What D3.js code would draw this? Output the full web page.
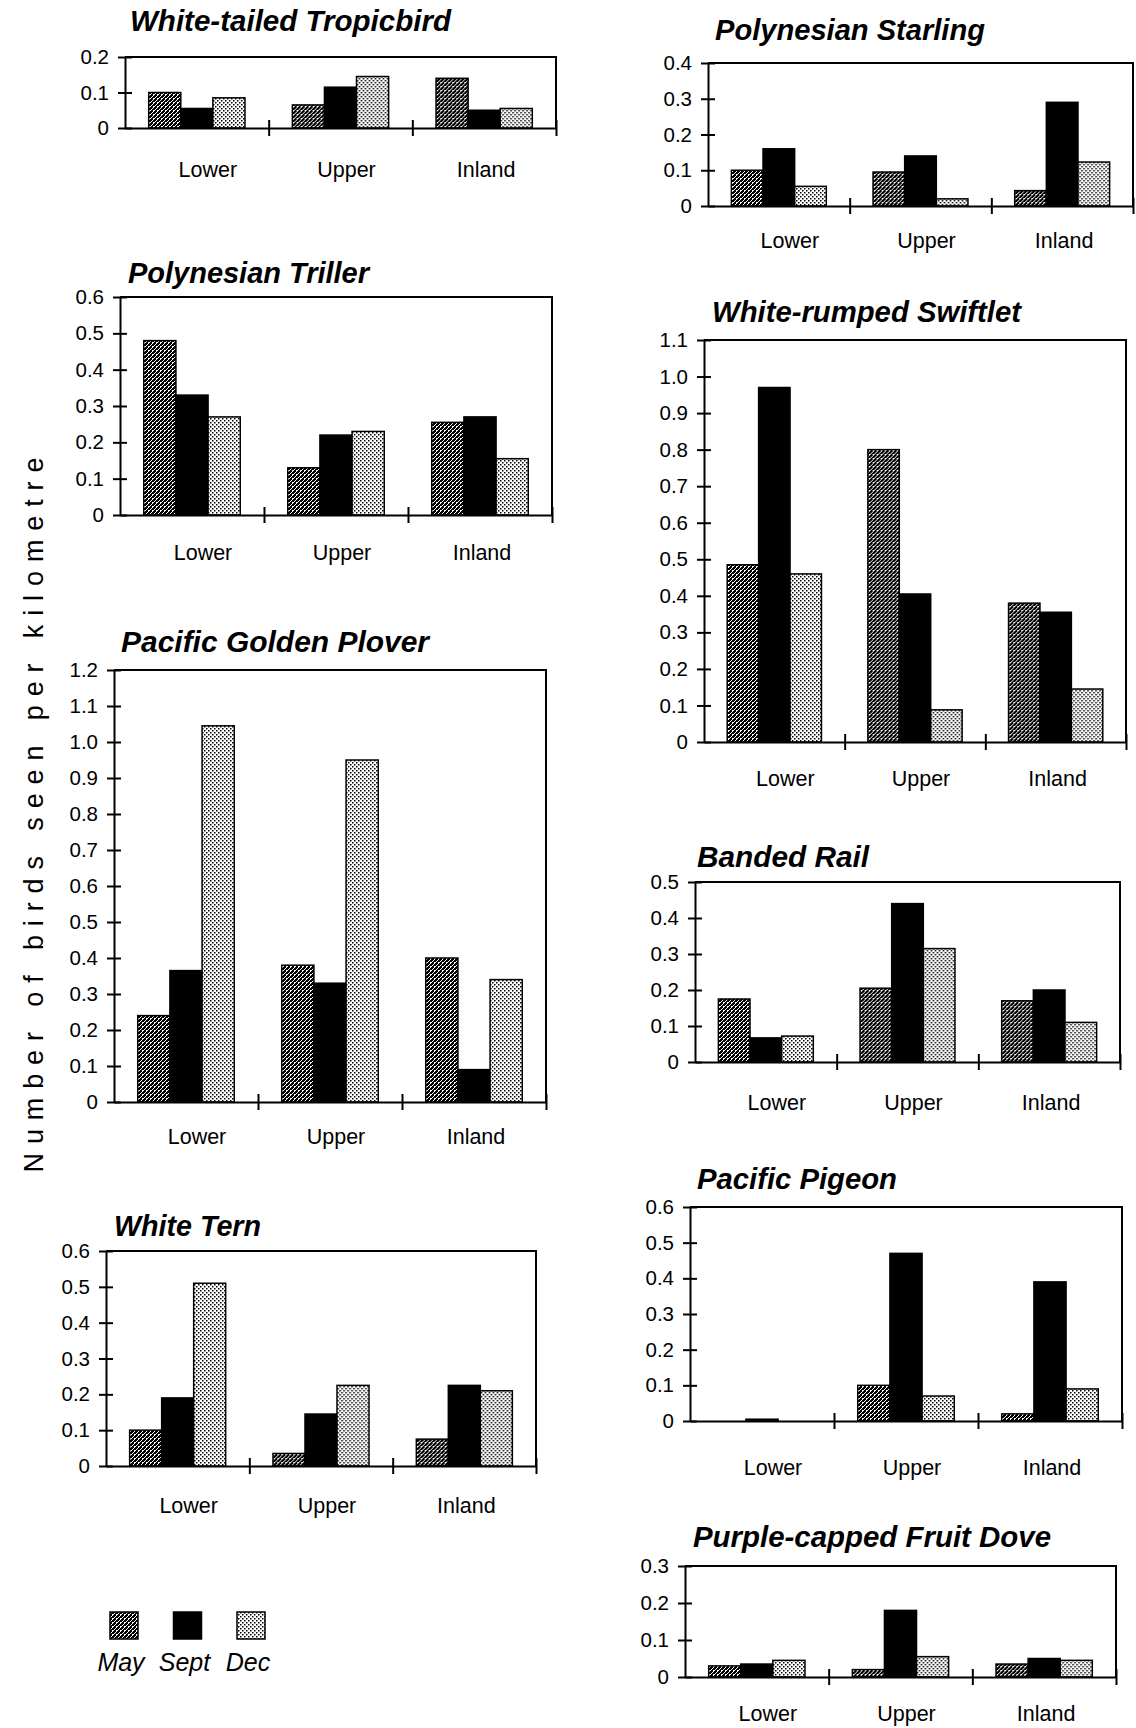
<!DOCTYPE html>
<html>
<head>
<meta charset="utf-8">
<script src="https://cdn.jsdelivr.net/npm/d3@7/dist/d3.min.js"></script>
<style>
  html, body { margin: 0; padding: 0; background: #fff; }
  svg { display: block; font-family: 'Liberation Sans', Arial, Helvetica, sans-serif; }
</style>
</head>
<body>
<svg id="chart" width="1136" height="1728"></svg>
<script>
// categories and series
const sites = ['Lower', 'Upper', 'Inland'];
const months = ['May', 'Sept', 'Dec'];

// birds seen per km, one row per site: [May, Sept, Dec]
const tropicbird = [[0.10, 0.055, 0.085], [0.065, 0.115, 0.145], [0.14, 0.05, 0.055]];
const triller    = [[0.48, 0.33, 0.27],   [0.13, 0.22, 0.23],    [0.255, 0.27, 0.155]];
const plover     = [[0.24, 0.365, 1.045], [0.38, 0.33, 0.95],    [0.40, 0.09, 0.34]];
const tern       = [[0.10, 0.19, 0.51],   [0.035, 0.145, 0.225], [0.075, 0.225, 0.21]];
const starling   = [[0.10, 0.16, 0.055],  [0.095, 0.14, 0.02],   [0.043, 0.29, 0.123]];
const swiftlet   = [[0.485, 0.97, 0.46],  [0.80, 0.405, 0.088],  [0.38, 0.355, 0.145]];
const rail       = [[0.175, 0.067, 0.072],[0.205, 0.44, 0.315],  [0.17, 0.20, 0.11]];
const pigeon     = [[0, 0.005, 0],        [0.10, 0.47, 0.07],    [0.02, 0.39, 0.09]];
const fruitDove  = [[0.03, 0.035, 0.045], [0.02, 0.18, 0.055],   [0.035, 0.05, 0.045]];

const speciesNames = [
  'White-tailed Tropicbird', 'Polynesian Triller', 'Pacific Golden Plover', 'White Tern',
  'Polynesian Starling', 'White-rumped Swiftlet', 'Banded Rail', 'Pacific Pigeon',
  'Purple-capped Fruit Dove'
];
const speciesValues = [tropicbird, triller, plover, tern, starling, swiftlet, rail, pigeon, fruitDove];
// top of each y axis
const yTops = [0.2, 0.6, 1.2, 0.6, 0.4, 1.1, 0.5, 0.6, 0.3];

const yLabel = 'Number of birds seen per kilometre';

// panel boxes (left, right, top, bottom), title position and width, site label baseline
const panels = [
  { l: 125, r: 556,  t: 57,   b: 128,  tx: 130, ty: 31,   tw: 321, ly: 177 },
  { l: 120, r: 552,  t: 297,  b: 515,  tx: 128, ty: 283,  tw: 241, ly: 560 },
  { l: 114, r: 546,  t: 670,  b: 1102, tx: 121, ty: 652,  tw: 308, ly: 1144 },
  { l: 106, r: 536,  t: 1251, b: 1466, tx: 114, ty: 1236, tw: 147, ly: 1513 },
  { l: 708, r: 1133, t: 63,   b: 206,  tx: 715, ty: 40,   tw: 270, ly: 248 },
  { l: 704, r: 1126, t: 340,  b: 742,  tx: 712, ty: 322,  tw: 309, ly: 786 },
  { l: 695, r: 1120, t: 882,  b: 1062, tx: 697, ty: 867,  tw: 172, ly: 1110 },
  { l: 690, r: 1122, t: 1207, b: 1421, tx: 697, ty: 1189, tw: 200, ly: 1475 },
  { l: 685, r: 1116, t: 1566, b: 1677, tx: 693, ty: 1547, tw: 358, ly: 1721 }
];

const svg = d3.select('#chart');
svg.append('rect').attr('width', 1136).attr('height', 1728).attr('fill', '#fff');

// Fill patterns for the three months
const defs = svg.append('defs');

const mayPat = defs.append('pattern')
  .attr('id', 'pat-may')
  .attr('patternUnits', 'userSpaceOnUse')
  .attr('width', 4)
  .attr('height', 4);
mayPat.append('rect').attr('width', 4).attr('height', 4).attr('fill', '#fff');
[[0, 0, 2, 2], [2, 2, 2, 2], [1, 3, 1, 1], [3, 1, 1, 1], [2, 0, 1, 1]].forEach(c => {
  mayPat.append('rect').attr('x', c[0]).attr('y', c[1]).attr('width', c[2]).attr('height', c[3]).attr('fill', '#000');
});

const decPat = defs.append('pattern')
  .attr('id', 'pat-dec')
  .attr('patternUnits', 'userSpaceOnUse')
  .attr('width', 4)
  .attr('height', 4);
decPat.append('rect').attr('width', 4).attr('height', 4).attr('fill', '#fff');
[[0, 0], [2, 2]].forEach(c => {
  decPat.append('rect').attr('x', c[0]).attr('y', c[1]).attr('width', 1.5).attr('height', 1.5).attr('fill', '#000');
});

const fills = d3.scaleOrdinal()
  .domain(months)
  .range(['url(#pat-may)', '#000', 'url(#pat-dec)']);

const tickFmt = d => d === 0 ? '0' : d3.format('.1f')(d);

// site labels sit a little right of band centre, more so for Lower
const labelShift = d3.scaleOrdinal().domain(sites).range([11, 6, 2]);

/**
 * Draw one species panel
 */
function drawPanel(p, name, values, yTop) {
  const g = svg.append('g').attr('class', 'panel');

  const y = d3.scaleLinear().domain([0, yTop]).range([p.b, p.t]);
  const x = d3.scaleBand().domain(sites).range([p.l, p.r]);
  const bw = x.bandwidth();
  const xm = d3.scaleBand().domain(months).range([bw * 0.165, bw * 0.835]);
  const xb = d3.scaleLinear().domain([0, sites.length]).range([p.l, p.r]);

  // frame: top and right edges
  g.append('path')
    .attr('d', `M${p.l},${p.t}H${p.r}V${p.b}`)
    .attr('fill', 'none')
    .attr('stroke', '#000')
    .attr('stroke-width', 2);

  // bars
  const rows = values.map((row, i) => row.map((v, j) => ({ site: sites[i], month: months[j], value: v })));
  g.selectAll('.site')
    .data(rows)
    .enter()
    .append('g')
    .attr('class', 'site')
    .attr('transform', d => `translate(${x(d[0].site)},0)`)
    .selectAll('rect')
    .data(d => d.filter(e => e.value > 0))
    .enter()
    .append('rect')
    .attr('x', d => xm(d.month))
    .attr('y', d => y(d.value))
    .attr('width', xm.bandwidth())
    .attr('height', d => y(0) - y(d.value))
    .attr('fill', d => fills(d.month))
    .attr('stroke', '#000')
    .attr('stroke-width', 1.5);

  // y axis with ticks crossing the line
  const nTicks = Math.round(yTop * 10);
  const yAxis = d3.axisLeft(y)
    .tickValues(d3.range(0, nTicks + 1).map(i => i / 10))
    .tickFormat(tickFmt)
    .tickSize(7)
    .tickPadding(9)
    .tickSizeOuter(0);

  g.append('g')
    .attr('transform', `translate(${p.l},0)`)
    .call(yAxis)
    .call(a => a.select('.domain').attr('stroke-width', 2))
    .call(a => a.selectAll('.tick line').attr('x1', 7).attr('stroke-width', 2))
    .call(a => a.selectAll('.tick text')
      .attr('font-size', 20.5)
      .attr('font-family', "'Liberation Sans', Arial, sans-serif")
      .attr('fill', '#000'));

  // x axis: ticks between the sites
  const xAxis = d3.axisBottom(xb)
    .tickValues(d3.range(1, sites.length + 1))
    .tickFormat('')
    .tickSize(8)
    .tickSizeOuter(0);

  g.append('g')
    .attr('transform', `translate(0,${p.b})`)
    .call(xAxis)
    .call(a => a.select('.domain').attr('stroke-width', 2))
    .call(a => a.selectAll('.tick line').attr('y1', -8).attr('stroke-width', 2));

  // site labels
  const labelAxis = d3.axisBottom(x).tickSize(0).tickPadding(0);
  g.append('g')
    .attr('transform', `translate(0,${p.ly})`)
    .call(labelAxis)
    .call(a => a.select('.domain').remove())
    .call(a => a.selectAll('.tick text')
      .attr('y', 0)
      .attr('dy', 0)
      .attr('dx', d => labelShift(d))
      .attr('font-size', 21.5)
      .attr('font-family', "'Liberation Sans', Arial, sans-serif")
      .attr('fill', '#000'));

  // species title
  g.append('text')
    .attr('x', p.tx)
    .attr('y', p.ty)
    .attr('font-size', 29)
    .attr('font-weight', 'bold')
    .attr('font-style', 'italic')
    .attr('textLength', p.tw)
    .attr('lengthAdjust', 'spacingAndGlyphs')
    .attr('fill', '#000')
    .text(name);
}

speciesNames.forEach((name, i) => {
  drawPanel(panels[i], name, speciesValues[i], yTops[i]);
});

// shared y axis title
svg.append('text')
  .attr('transform', 'translate(43,815) rotate(-90)')
  .attr('text-anchor', 'middle')
  .attr('font-size', 27)
  .attr('textLength', 715)
  .attr('lengthAdjust', 'spacing')
  .attr('fill', '#000')
  .text(yLabel);

// legend
const legendX = d3.scalePoint().domain(months).range([124, 251]);
const legend = svg.append('g').attr('class', 'legend');

legend.selectAll('rect')
  .data(months)
  .enter()
  .append('rect')
  .attr('x', d => legendX(d) - 14)
  .attr('y', 1612)
  .attr('width', 28)
  .attr('height', 27)
  .attr('fill', d => fills(d))
  .attr('stroke', '#000')
  .attr('stroke-width', 1.5);

legend.selectAll('text')
  .data(months)
  .enter()
  .append('text')
  .attr('x', d => legendX(d) - 3)
  .attr('y', 1671)
  .attr('text-anchor', 'middle')
  .attr('font-size', 25)
  .attr('font-style', 'italic')
  .attr('fill', '#000')
  .text(d => d);
</script>
</body>
</html>
